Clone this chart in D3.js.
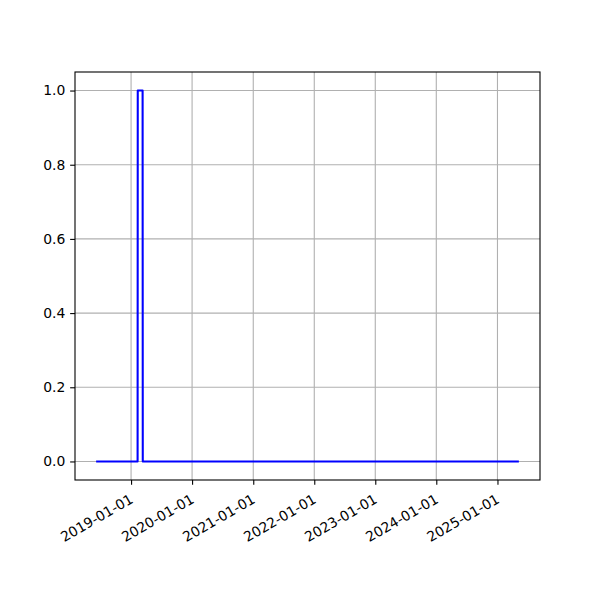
<!DOCTYPE html>
<html>
<head>
<meta charset="utf-8">
<script src="https://cdn.jsdelivr.net/npm/d3@7"></script>
<style>
  html, body { margin: 0; padding: 0; background: #ffffff; }
  svg { display: block; }
  text { font-family: "DejaVu Sans", sans-serif; }
</style>
</head>
<body>
<svg id="chart" width="600" height="600"></svg>
<script>
// ---- data ----
const dates = ["2018-06-06", "2019-02-09", "2019-02-10", "2019-03-11", "2019-03-12", "2025-05-09"];
const values = [0, 0, 1, 1, 0, 0];
const xTickLabels = ["2019-01-01", "2020-01-01", "2021-01-01", "2022-01-01", "2023-01-01", "2024-01-01", "2025-01-01"];
const yTicks = [0.0, 0.2, 0.4, 0.6, 0.8, 1.0];

// ---- layout ----
const L = 75, R = 540, T = 72, B = 480;
const parse = d3.utcParse("%Y-%m-%d");
const fmt = d3.utcFormat("%Y-%m-%d");
const data = dates.map((d, i) => ({ t: parse(d), v: values[i] }));

const tExt = d3.extent(data, d => +d.t);
const tPad = (tExt[1] - tExt[0]) * 0.05;
const x = d3.scaleUtc().domain([new Date(tExt[0] - tPad), new Date(tExt[1] + tPad)]).range([L, R]);
const vExt = d3.extent(values);
const vPad = (vExt[1] - vExt[0]) * 0.05;
const y = d3.scaleLinear().domain([vExt[0] - vPad, vExt[1] + vPad]).range([B, T]);

const svg = d3.select("#chart");
svg.append("rect").attr("width", 600).attr("height", 600).attr("fill", "#ffffff");

const xTickDates = xTickLabels.map(parse);
const gridColor = "#b0b0b0";
const gridW = 1.1;

// grid
const grid = svg.append("g");
grid.selectAll("line.gx").data(xTickDates).enter().append("line")
  .attr("x1", d => x(d)).attr("x2", d => x(d)).attr("y1", T).attr("y2", B)
  .attr("stroke", gridColor).attr("stroke-width", gridW);
grid.selectAll("line.gy").data(yTicks).enter().append("line")
  .attr("x1", L).attr("x2", R).attr("y1", d => y(d)).attr("y2", d => y(d))
  .attr("stroke", gridColor).attr("stroke-width", gridW);

// line
svg.append("defs").append("clipPath").attr("id", "clip")
  .append("rect").attr("x", L).attr("y", T).attr("width", R - L).attr("height", B - T);
svg.append("path").datum(data)
  .attr("clip-path", "url(#clip)")
  .attr("fill", "none").attr("stroke", "#0000ff").attr("stroke-width", 2.08)
  .attr("stroke-linejoin", "round").attr("stroke-linecap", "butt")
  .attr("d", d3.line().x(d => x(d.t)).y(d => y(d.v)));

// axes
const tickLen = 4.86, pad = 4.86, fs = 13.9;
const xAxis = d3.axisBottom(x).tickValues(xTickDates).tickFormat(fmt)
  .tickSize(tickLen).tickPadding(pad);
const gx = svg.append("g").attr("transform", `translate(0,${B})`).call(xAxis);
gx.select(".domain").remove();
gx.selectAll(".tick line").attr("stroke", "#000").attr("stroke-width", 1.1);
gx.selectAll(".tick text")
  .attr("font-family", "DejaVu Sans").attr("font-size", fs).attr("fill", "#000")
  .attr("text-anchor", "end")
  .attr("dy", null).attr("y", null)
  .attr("transform", "translate(2.5,22) rotate(-30)");

const yAxis = d3.axisLeft(y).tickValues(yTicks).tickFormat(d3.format(".1f"))
  .tickSize(tickLen).tickPadding(pad);
const gy = svg.append("g").attr("transform", `translate(${L},0)`).call(yAxis);
gy.select(".domain").remove();
gy.selectAll(".tick line").attr("stroke", "#000").attr("stroke-width", 1.1);
gy.selectAll(".tick text")
  .attr("font-family", "DejaVu Sans").attr("font-size", fs).attr("fill", "#000");

// spines
svg.append("rect").attr("x", L).attr("y", T).attr("width", R - L).attr("height", B - T)
  .attr("fill", "none").attr("stroke", "#000").attr("stroke-width", 1.1);
</script>
</body>
</html>
